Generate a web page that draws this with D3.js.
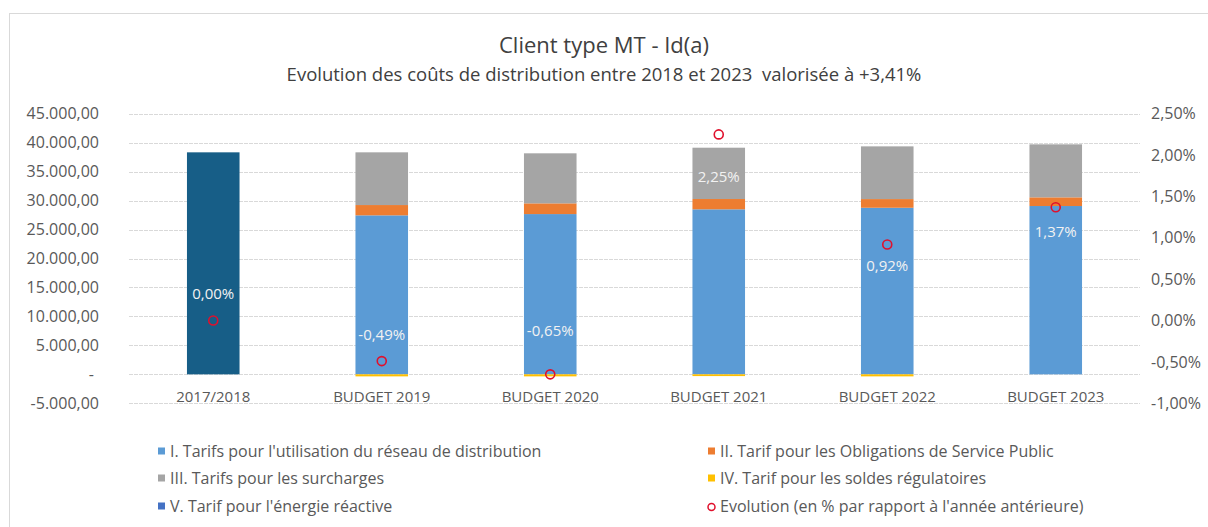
<!DOCTYPE html>
<html>
<head>
<meta charset="utf-8">
<script src="https://cdn.jsdelivr.net/npm/d3@7"></script>
<style>
  body { margin: 0; background: #fff; }
  svg text { font-family: "Open Sans", Lato, sans-serif; }
</style>
</head>
<body>
<div id="chart"></div>
<script>
/* Client type MT - Id(a) : stacked costs + evolution markers */

const categories = ["2017/2018", "BUDGET 2019", "BUDGET 2020", "BUDGET 2021", "BUDGET 2022", "BUDGET 2023"];

// stacked components (EUR)
const total2018   = [38330, 0, 0, 0, 0, 0];
const reseau      = [0, 27450, 27670, 28490, 28760, 29060];
const osp         = [0, 1780, 1850, 1780, 1500, 1500];
const surcharges  = [0, 9100, 8640, 8860, 9100, 9150];
const soldes      = [0, -350, -350, -300, -350, 0];
const reactive    = [0, 0, 0, 0, 0, 0];

// evolution vs previous year
const evolution = [0.0000, -0.0049, -0.0065, 0.0225, 0.0092, 0.0137];

const leftTicks  = [-5000, 0, 5000, 10000, 15000, 20000, 25000, 30000, 35000, 40000, 45000];
const rightTicks = [-0.01, -0.005, 0, 0.005, 0.01, 0.015, 0.02, 0.025];

const seriesNames = [
    "I. Tarifs pour l'utilisation du réseau de distribution",
    "II. Tarif pour les Obligations de Service Public",
    "III. Tarifs pour les surcharges",
    "IV. Tarif pour les soldes régulatoires",
    "V. Tarif pour l'énergie réactive"
];
const evolutionName = "Evolution (en % par rapport à l'année antérieure)";

const width = 1208, height = 527;
const plot = { left: 129, right: 1140, top: 113.7, bottom: 403.3 };

const locale = d3.formatLocale({ decimal: ",", thousands: ".", grouping: [3], currency: ["", " €"], minus: "-" });
const fmtNum = locale.format(",.2f");
const fmtPct = locale.format(".2%");

let svg = d3.select("#chart")
    .append("svg")
    .attr("width", width)
    .attr("height", height)
    .attr("viewBox", [0, 0, width, height]);

/* chart frame */
svg.append("rect")
    .attr("x", 9.5).attr("y", 13.5)
    .attr("width", width + 10).attr("height", height + 10)
    .attr("fill", "none")
    .attr("stroke", "#d9d9d9");

/* titles */
svg.append("text")
    .attr("x", 604).attr("y", 53)
    .attr("text-anchor", "middle")
    .attr("font-size", 22)
    .attr("fill", "#404040")
    .text("Client type MT - Id(a)");

svg.append("text")
    .attr("x", 604).attr("y", 81)
    .attr("text-anchor", "middle")
    .attr("font-size", 18.5)
    .attr("fill", "#404040")
    .style("white-space", "pre")
    .text("Evolution des coûts de distribution entre 2018 et 2023  valorisée à +3,41%");

/* scales */
let x = d3.scaleBand()
    .domain(categories)
    .range([plot.left, plot.right]);

let y = d3.scaleLinear()
    .domain([-5000, 45000])
    .range([plot.bottom, plot.top]);

let y2 = d3.scaleLinear()
    .domain([-0.01, 0.025])
    .range([plot.bottom, plot.top]);

/* grid lines */
svg.append("g")
    .selectAll("line")
    .data(leftTicks)
    .join("line")
    .attr("x1", plot.left).attr("x2", plot.right)
    .attr("y1", d => Math.round(y(d)) + 0.5)
    .attr("y2", d => Math.round(y(d)) + 0.5)
    .attr("stroke", "#d9d9d9")
    .attr("stroke-dasharray", "4,1");

/* left axis */
let leftAxis = svg.append("g")
    .attr("transform", `translate(99,0)`)
    .call(d3.axisLeft(y).tickValues(leftTicks).tickSize(0).tickPadding(0)
        .tickFormat(d => d === 0 ? "-" : fmtNum(d)));
leftAxis.select(".domain").remove();
leftAxis.selectAll("text")
    .attr("font-size", 16)
    .attr("fill", "#595959")
    .attr("font-family", "'Open Sans', sans-serif");
leftAxis.selectAll("text").filter(d => d === 0).attr("dx", -5);

/* right axis */
let rightAxis = svg.append("g")
    .attr("transform", `translate(1151,0)`)
    .call(d3.axisRight(y2).tickValues(rightTicks).tickSize(0).tickPadding(0)
        .tickFormat(fmtPct));
rightAxis.select(".domain").remove();
rightAxis.selectAll("text")
    .attr("font-size", 16)
    .attr("fill", "#595959")
    .attr("font-family", "'Open Sans', sans-serif");

/* category labels */
svg.append("g")
    .selectAll("text")
    .data(categories)
    .join("text")
    .attr("x", d => x(d) + x.bandwidth() / 2)
    .attr("y", 402)
    .attr("text-anchor", "middle")
    .attr("font-size", 15)
    .attr("fill", "#595959")
    .text(d => d);

/* stacked bars */
const keys = ["total", "reseau", "osp", "surcharges", "soldes", "reactive"];
const colors = {
    total: "#175e87", reseau: "#5b9bd5", osp: "#ed7d31",
    surcharges: "#a5a5a5", soldes: "#ffc000", reactive: "#4472c4"
};
const rows = categories.map((c, i) => ({
    cat: c,
    total: total2018[i], reseau: reseau[i], osp: osp[i],
    surcharges: surcharges[i], soldes: soldes[i], reactive: reactive[i]
}));

let stack = d3.stack().keys(keys).offset(d3.stackOffsetDiverging)(rows);
const barW = x.bandwidth() * 0.312;

let layer = svg.append("g")
    .selectAll("g")
    .data(stack)
    .join("g")
    .attr("fill", d => colors[d.key]);

layer.selectAll("rect")
    .data(d => d)
    .join("rect")
    .attr("x", d => x(d.data.cat) + (x.bandwidth() - barW) / 2)
    .attr("width", barW)
    .attr("y", d => y(Math.max(d[0], d[1])))
    .attr("height", d => Math.abs(y(d[0]) - y(d[1])));

/* evolution markers */
svg.append("g")
    .selectAll("circle")
    .data(evolution)
    .join("circle")
    .attr("cx", (d, i) => x(categories[i]) + x.bandwidth() / 2)
    .attr("cy", d => y2(d))
    .attr("r", 4.5)
    .attr("fill", "none")
    .attr("stroke", "#e0102c")
    .attr("stroke-width", 1.6);

// label shift from its marker, as placed in the original
const labelShift = [-27, -26, -44, 42, 21, 25];

svg.append("g")
    .selectAll("text")
    .data(evolution)
    .join("text")
    .attr("x", (d, i) => x(categories[i]) + x.bandwidth() / 2)
    .attr("y", (d, i) => y2(d) + labelShift[i])
    .attr("dy", "0.35em")
    .attr("text-anchor", "middle")
    .attr("font-size", 15)
    .attr("fill", "#f2f2f2")
    .text(d => fmtPct(d));

/* legend */
const legendItems = [
    { name: seriesNames[0], color: colors.reseau, col: 0, row: 0 },
    { name: seriesNames[1], color: colors.osp, col: 1, row: 0 },
    { name: seriesNames[2], color: colors.surcharges, col: 0, row: 1 },
    { name: seriesNames[3], color: colors.soldes, col: 1, row: 1 },
    { name: seriesNames[4], color: colors.reactive, col: 0, row: 2 },
    { name: evolutionName, color: null, col: 1, row: 2 }
];
const colX = [158, 708], rowY = [451, 478, 506];

let leg = svg.append("g")
    .selectAll("g")
    .data(legendItems)
    .join("g")
    .attr("transform", d => `translate(${colX[d.col]},${rowY[d.row]})`);

leg.filter(d => d.color)
    .append("rect")
    .attr("x", 0).attr("y", -3.5)
    .attr("width", 7).attr("height", 7)
    .attr("fill", d => d.color);

leg.filter(d => !d.color)
    .append("circle")
    .attr("cx", 3.5).attr("cy", 1)
    .attr("r", 3.5)
    .attr("fill", "none")
    .attr("stroke", "#e0102c")
    .attr("stroke-width", 1.5);

leg.append("text")
    .attr("x", 12)
    .attr("dy", "0.35em")
    .attr("font-size", 16)
    .attr("fill", "#595959")
    .text(d => d.name);
</script>
</body>
</html>
